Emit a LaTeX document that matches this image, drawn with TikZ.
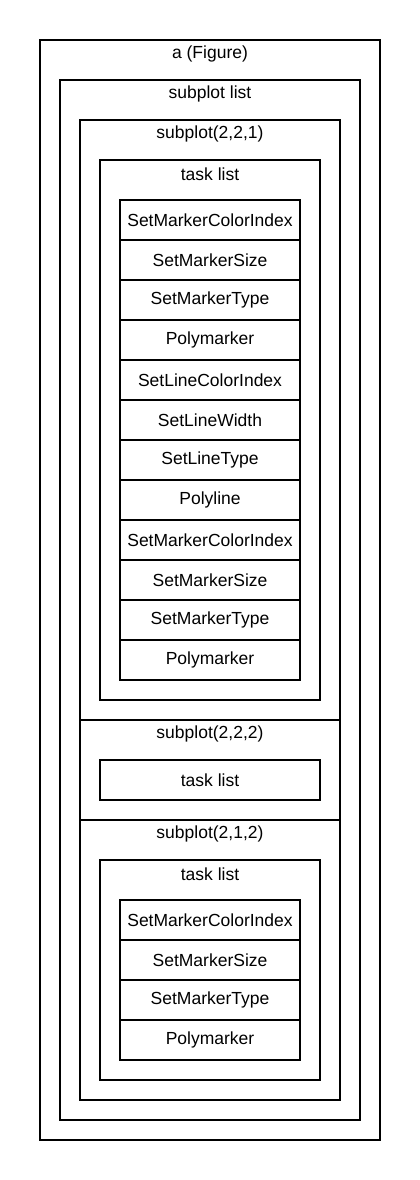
\documentclass[tikz,border=0pt]{standalone}
\usepackage{fontspec}
\setmainfont{Liberation Sans}
\begin{document}
\begin{tikzpicture}[x=1pt,y=-1pt,
  box/.style={draw=black,line width=2pt,fill=none,inner sep=0pt,outer sep=0pt},
  ttl/.style={inner sep=0pt,font=\fontsize{17.5}{20}\selectfont},
  item/.style={draw=black,line width=2pt,inner sep=0pt,outer sep=0pt,
    minimum width=180pt,minimum height=40pt,font=\fontsize{17.5}{20}\selectfont}]
\useasboundingbox[fill=white] (0,0) rectangle (420,1180);

% nested containers
\draw[box] (40,40) rectangle (380,1140);
\node[ttl] (figttl) at (210,54) {a (Figure)};
\draw[box] (60,80) rectangle (360,1120);
\node[ttl] (splttl) at (210,94) {subplot list};

% subplot(2,2,1)
\draw[box] (80,120) rectangle (340,720);
\node[ttl] (sp1ttl) at (210,134) {subplot(2,2,1)};
\draw[box] (100,160) rectangle (320,700);
\node[ttl] (tl1ttl) at (210,174) {task list};
\foreach \t [count=\i] in {SetMarkerColorIndex,SetMarkerSize,SetMarkerType,Polymarker,
  SetLineColorIndex,SetLineWidth,SetLineType,Polyline,
  SetMarkerColorIndex,SetMarkerSize,SetMarkerType,Polymarker}
  \node[item] (a\i) at (210,{180+40*\i}) {\t};

% subplot(2,2,2)
\draw[box] (80,720) rectangle (340,820);
\node[ttl] (sp2ttl) at (210,734) {subplot(2,2,2)};
\node[box,minimum width=220pt,minimum height=40pt,font=\fontsize{17.5}{20}\selectfont] (tl2) at (210,780) {task list};

% subplot(2,1,2)
\draw[box] (80,820) rectangle (340,1100);
\node[ttl] (sp3ttl) at (210,834) {subplot(2,1,2)};
\draw[box] (100,860) rectangle (320,1080);
\node[ttl] (tl3ttl) at (210,874) {task list};
\foreach \t [count=\i] in {SetMarkerColorIndex,SetMarkerSize,SetMarkerType,Polymarker}
  \node[item] (b\i) at (210,{880+40*\i}) {\t};
\end{tikzpicture}
\end{document}
